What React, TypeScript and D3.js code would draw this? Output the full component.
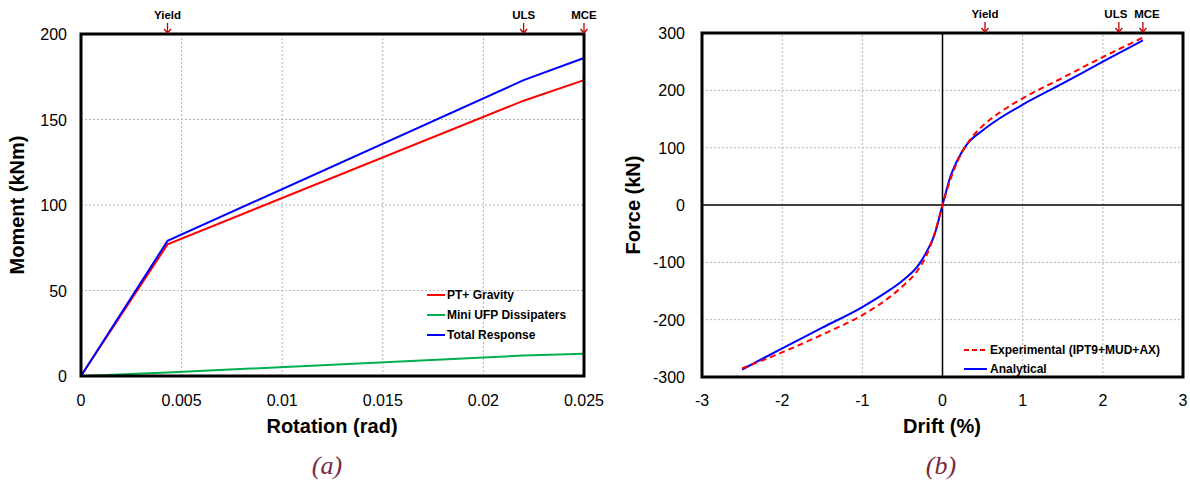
import React from "react";
import * as d3 from "d3";

// ---- chart (a) data: moment vs rotation ----
const rotation = [0, 0.0043, 0.022, 0.025];
const ptGravity = [0, 77, 161, 173];
const miniUfp = [0, 2, 12, 13];
const totalResponse = [0, 79, 173, 186];
const aXTicks = [0, 0.005, 0.01, 0.015, 0.02, 0.025];
const aYTicks = [0, 50, 100, 150, 200];
const aMarkers = [
  { label: "Yield", x: 0.0043 },
  { label: "ULS", x: 0.022 },
  { label: "MCE", x: 0.025 },
];

// ---- chart (b) data: force vs drift ----
const analyticalDrift = [-2.5, -2, -1.5, -1, -0.7, -0.5, -0.3, -0.2, -0.1, 0, 0.1, 0.2, 0.3, 0.5, 0.7, 1, 1.5, 2, 2.5];
const analyticalForce = [-287, -250, -214, -178, -152, -132, -105, -82, -52, 0, 50, 82, 105, 130, 150, 175, 212, 250, 287];
const experimentalDrift = [-2.5, -2, -1.5, -1, -0.7, -0.5, -0.3, -0.2, -0.1, 0, 0.1, 0.2, 0.3, 0.5, 0.7, 1, 1.5, 2, 2.5];
const experimentalForce = [-285, -257, -226, -192, -165, -142, -112, -88, -50, 0, 45, 80, 105, 138, 160, 186, 222, 258, 292];
const bXTicks = [-3, -2, -1, 0, 1, 2, 3];
const bYTicks = [-300, -200, -100, 0, 100, 200, 300];
const bMarkers = [
  { label: "Yield", x: 0.53 },
  { label: "ULS", x: 2.2 },
  { label: "MCE", x: 2.5 },
];

const FONT = "'Liberation Sans', Arial, sans-serif";
const ARROW = "#c00000";
const GRID = "#b4b4b4";

type Pt = [number, number];
const zip = (xs: number[], ys: number[]): Pt[] => xs.map((x, i) => [x, ys[i]]);

interface MarkerProps {
  x: number;
  top: number;
  label: string;
  dx?: number;
}

const Marker: React.FC<MarkerProps> = ({ x, top, label, dx = 0 }) => (
  <g>
    <text x={x + dx} y={top - 15} textAnchor="middle" fontFamily={FONT} fontWeight="bold" fontSize={11.5}>
      {label}
    </text>
    <line x1={x} x2={x} y1={top - 11} y2={top - 1} stroke={ARROW} strokeWidth={1.3} />
    <path d={`M${x - 3.5},${top - 5} L${x},${top - 1} L${x + 3.5},${top - 5}`} fill="none" stroke={ARROW} strokeWidth={1.3} />
  </g>
);

const ChartA: React.FC = () => {
  const x = d3.scaleLinear().domain([0, 0.025]).range([81, 584]);
  const y = d3.scaleLinear().domain([0, 200]).range([376, 34]);
  const line = d3
    .line<Pt>()
    .x((d) => x(d[0]))
    .y((d) => y(d[1]));

  const series = [
    { name: "PT+ Gravity", color: "#ff0000", data: zip(rotation, ptGravity) },
    { name: "Mini UFP Dissipaters", color: "#00b050", data: zip(rotation, miniUfp) },
    { name: "Total Response", color: "#0000ff", data: zip(rotation, totalResponse) },
  ];

  return (
    <g>
      {/* grid */}
      {aXTicks.slice(1, -1).map((t) => (
        <line key={"gx" + t} x1={x(t)} x2={x(t)} y1={y(0)} y2={y(200)} stroke={GRID} strokeDasharray="2,2" />
      ))}
      {aYTicks.slice(1, -1).map((t) => (
        <line key={"gy" + t} x1={x(0)} x2={x(0.025)} y1={y(t)} y2={y(t)} stroke={GRID} strokeDasharray="2,2" />
      ))}

      {/* lines: green first so blue/red sit above */}
      {[series[1], series[0], series[2]].map((s) => (
        <path key={s.name} d={line(s.data) || ""} fill="none" stroke={s.color} strokeWidth={2} />
      ))}

      <rect x={x(0)} y={y(200)} width={x(0.025) - x(0)} height={y(0) - y(200)} fill="none" stroke="#000" strokeWidth={3} />

      {/* ticks */}
      {aXTicks.map((t) => (
        <text key={"tx" + t} x={x(t)} y={406} textAnchor="middle" fontFamily={FONT} fontSize={16}>
          {t}
        </text>
      ))}
      {aYTicks.map((t) => (
        <text key={"ty" + t} x={67} y={y(t) + 6} textAnchor="end" fontFamily={FONT} fontSize={16}>
          {t}
        </text>
      ))}

      {/* titles */}
      <text x={332} y={433} textAnchor="middle" fontFamily={FONT} fontWeight="bold" fontSize={20}>
        Rotation (rad)
      </text>
      <text transform={`translate(24,${y(100)}) rotate(-90)`} textAnchor="middle" fontFamily={FONT} fontWeight="bold" fontSize={20}>
        Moment (kNm)
      </text>

      {/* legend */}
      {series.map((s, i) => (
        <g key={"lg" + s.name}>
          <line x1={427} x2={445} y1={295 + i * 20} y2={295 + i * 20} stroke={s.color} strokeWidth={2} />
          <text x={447} y={299 + i * 20} fontFamily={FONT} fontWeight="bold" fontSize={12}>
            {s.name}
          </text>
        </g>
      ))}

      {aMarkers.map((m) => (
        <Marker key={m.label} x={x(m.x)} top={y(200)} label={m.label} />
      ))}

      <text x={327} y={474} textAnchor="middle" fontFamily="'Liberation Serif', 'Times New Roman', serif" fontStyle="italic" fontSize={26} fill="#7a2840">
        (a)
      </text>
    </g>
  );
};

const ChartB: React.FC = () => {
  const x = d3.scaleLinear().domain([-3, 3]).range([702, 1183]);
  const y = d3.scaleLinear().domain([-300, 300]).range([377, 33]);
  const line = d3
    .line<Pt>()
    .x((d) => x(d[0]))
    .y((d) => y(d[1]))
    .curve(d3.curveMonotoneX);

  return (
    <g>
      {bXTicks.slice(1, -1).filter((t) => t !== 0).map((t) => (
        <line key={"gx" + t} x1={x(t)} x2={x(t)} y1={y(-300)} y2={y(300)} stroke={GRID} strokeDasharray="2,2" />
      ))}
      {bYTicks.slice(1, -1).filter((t) => t !== 0).map((t) => (
        <line key={"gy" + t} x1={x(-3)} x2={x(3)} y1={y(t)} y2={y(t)} stroke={GRID} strokeDasharray="2,2" />
      ))}
      <line x1={x(0)} x2={x(0)} y1={y(-300)} y2={y(300)} stroke="#000" strokeWidth={1.5} />
      <line x1={x(-3)} x2={x(3)} y1={y(0)} y2={y(0)} stroke="#000" strokeWidth={1.5} />

      <path d={line(zip(analyticalDrift, analyticalForce)) || ""} fill="none" stroke="#0000ff" strokeWidth={2} />
      <path d={line(zip(experimentalDrift, experimentalForce)) || ""} fill="none" stroke="#ff0000" strokeWidth={2} strokeDasharray="6,4" />

      <rect x={x(-3)} y={y(300)} width={x(3) - x(-3)} height={y(-300) - y(300)} fill="none" stroke="#000" strokeWidth={3} />

      {bXTicks.map((t) => (
        <text key={"tx" + t} x={x(t)} y={406} textAnchor="middle" fontFamily={FONT} fontSize={16}>
          {t}
        </text>
      ))}
      {bYTicks.map((t) => (
        <text key={"ty" + t} x={685} y={y(t) + 6} textAnchor="end" fontFamily={FONT} fontSize={16}>
          {t}
        </text>
      ))}

      <text x={942} y={433} textAnchor="middle" fontFamily={FONT} fontWeight="bold" fontSize={20}>
        Drift (%)
      </text>
      <text transform={`translate(640,${y(0)}) rotate(-90)`} textAnchor="middle" fontFamily={FONT} fontWeight="bold" fontSize={20}>
        Force (kN)
      </text>

      <line x1={964} x2={987} y1={350} y2={350} stroke="#ff0000" strokeWidth={2} strokeDasharray="5,3" />
      <text x={990} y={354} fontFamily={FONT} fontWeight="bold" fontSize={12}>
        Experimental (IPT9+MUD+AX)
      </text>
      <line x1={964} x2={987} y1={369} y2={369} stroke="#0000ff" strokeWidth={2} />
      <text x={990} y={373} fontFamily={FONT} fontWeight="bold" fontSize={12}>
        Analytical
      </text>

      {bMarkers.map((m) => (
        <Marker key={m.label} x={x(m.x)} top={y(300)} label={m.label} dx={m.label === "ULS" ? -3 : m.label === "MCE" ? 4 : 0} />
      ))}

      <text x={941} y={474} textAnchor="middle" fontFamily="'Liberation Serif', 'Times New Roman', serif" fontStyle="italic" fontSize={26} fill="#7a2840">
        (b)
      </text>
    </g>
  );
};

const App: React.FC = () => (
  <svg
    width={1190}
    height={490}
    style={{ position: "absolute", left: 0, top: 0, background: "#fff" }}
  >
    <rect width={1190} height={490} fill="#fff" />
    <ChartA />
    <ChartB />
  </svg>
);

export default App;
